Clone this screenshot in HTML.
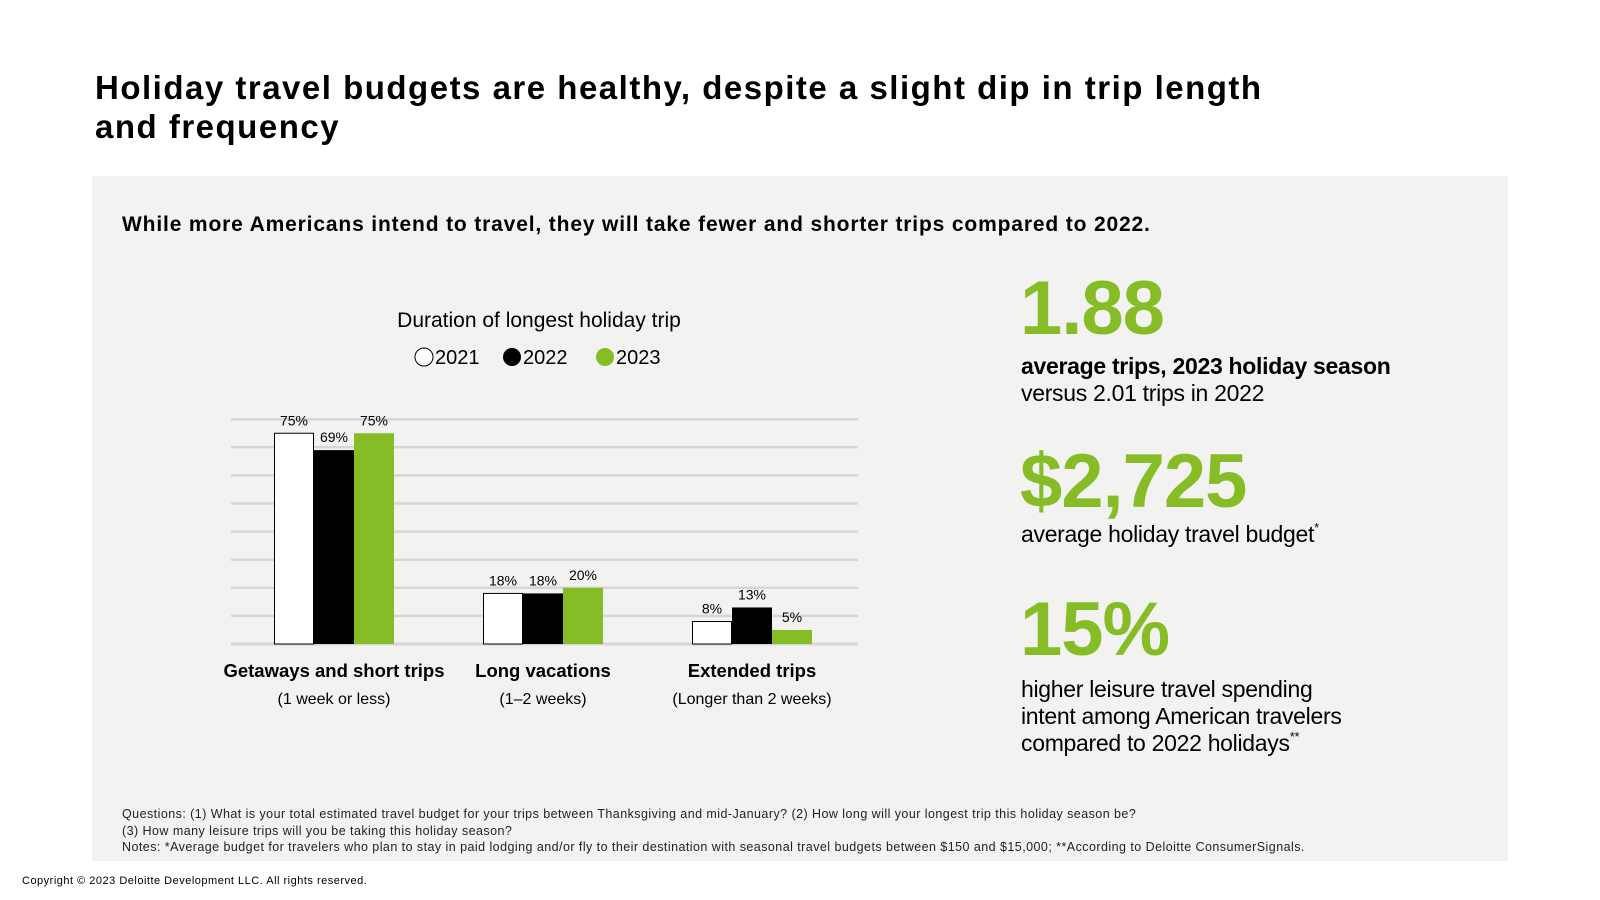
<!DOCTYPE html>
<html><head><meta charset="utf-8"><style>
body{margin:0;width:1600px;height:900px;background:#fff;font-family:"Liberation Sans",sans-serif;position:relative;overflow:hidden;color:#000}
.a{position:absolute;white-space:nowrap}
.big{color:#86bc25;font-weight:bold;font-size:76px;letter-spacing:-1px;line-height:1}
.st{font-size:23px;line-height:27px;letter-spacing:-0.3px}
sup{font-size:13px;line-height:0;vertical-align:10px}
</style></head><body>
<div class="a" style="left:95px;top:68px;font-size:33px;font-weight:bold;line-height:39px;letter-spacing:1.5px">Holiday travel budgets are healthy, despite a slight dip in trip length<br>and frequency</div>
<div class="a" style="left:92px;top:176px;width:1416px;height:685px;background:#f2f2f0"></div>
<div class="a" style="left:122px;top:213px;font-size:21px;font-weight:bold;letter-spacing:0.85px">While more Americans intend to travel, they will take fewer and shorter trips compared to 2022.</div>
<svg class="a" style="left:0;top:0" width="1600" height="900" id="chart"></svg>
<div class="a big" style="left:1020px;top:271px">1.88</div>
<div class="a st" style="left:1021px;top:353px"><b>average trips, 2023 holiday season</b><br>versus 2.01 trips in 2022</div>
<div class="a big" style="left:1020px;top:444px">$2,725</div>
<div class="a st" style="left:1021px;top:521px">average holiday travel budget<sup>*</sup></div>
<div class="a big" style="left:1020px;top:592px">15%</div>
<div class="a st" style="left:1021px;top:676px">higher leisure travel spending<br>intent among American travelers<br>compared to 2022 holidays<sup>**</sup></div>
<div class="a" style="left:122px;top:806px;font-size:12.5px;line-height:16.5px;color:#222;letter-spacing:0.45px">Questions: (1) What is your total estimated travel budget for your trips between Thanksgiving and mid-January? (2) How long will your longest trip this holiday season be?<br>(3) How many leisure trips will you be taking this holiday season?<br>Notes: *Average budget for travelers who plan to stay in paid lodging and/or fly to their destination with seasonal travel budgets between $150 and $15,000; **According to Deloitte ConsumerSignals.</div>
<div class="a" style="left:22px;top:875px;font-size:11px;letter-spacing:0.5px">Copyright © 2023 Deloitte Development LLC. All rights reserved.</div>
<script>
const categories=["Getaways and short trips","Long vacations","Extended trips"];
const subLabels=["(1 week or less)","(1–2 weeks)","(Longer than 2 weeks)"];
const years=["2021","2022","2023"];
const v2021=[75,18,8];
const v2022=[69,18,13];
const v2023=[75,20,5];
const gridTicks=[0,10,20,30,40,50,60,70,80];
const svg=document.getElementById('chart');
const NS='http://www.w3.org/2000/svg';
const base=644,pxPer=2.81,left=231,right=858;
const y=v=>base-v*pxPer;
const gx=i=>334+i*209;
function mk(t,a){const e=document.createElementNS(NS,t);for(const k in a)e.setAttribute(k,a[k]);svg.appendChild(e);return e;}
let t=mk('text',{x:539,y:327,'text-anchor':'middle','font-size':21});t.textContent='Duration of longest holiday trip';


const legC=['#fff','#000','#86bc25'],legX=[415,503,596];
years.forEach((yr,i)=>{
 const c=mk('circle',{cx:legX[i]+9,cy:357,r:9,fill:legC[i],stroke:'#000','stroke-width':i==0?1:0});
 
 
 const tx=mk('text',{x:legX[i]+20,y:364,'font-size':20});tx.textContent=yr;
 
 
});
gridTicks.forEach(g=>{
 const l=mk('line',{x1:left,x2:right,y1:y(g),y2:y(g),stroke:'#d6d6d4','stroke-width':g==0?3:2.5});
 
 
});
const series=[v2021,v2022,v2023],bw=40;
categories.forEach((c,i)=>{
 series.forEach((s,j)=>{
  const x=gx(i)-60+j*bw;
  const r=mk('rect',{x:x+(j==0?0.5:0),y:y(s[i]),width:bw-(j==0?1:0),height:s[i]*pxPer,fill:legC[j],stroke:j==0?'#000':'none','stroke-width':1});
  
  
  const lb=mk('text',{x:x+bw/2,y:y(s[i])-8,'text-anchor':'middle','font-size':14});lb.textContent=s[i]+'%';
  
  
 });
 const cl=mk('text',{x:gx(i),y:677,'text-anchor':'middle','font-size':18.5,'font-weight':600});cl.textContent=c;
 
 
 const sl=mk('text',{x:gx(i),y:704,'text-anchor':'middle','font-size':16});sl.textContent=subLabels[i];
 
 
});
</script>
</body></html>
